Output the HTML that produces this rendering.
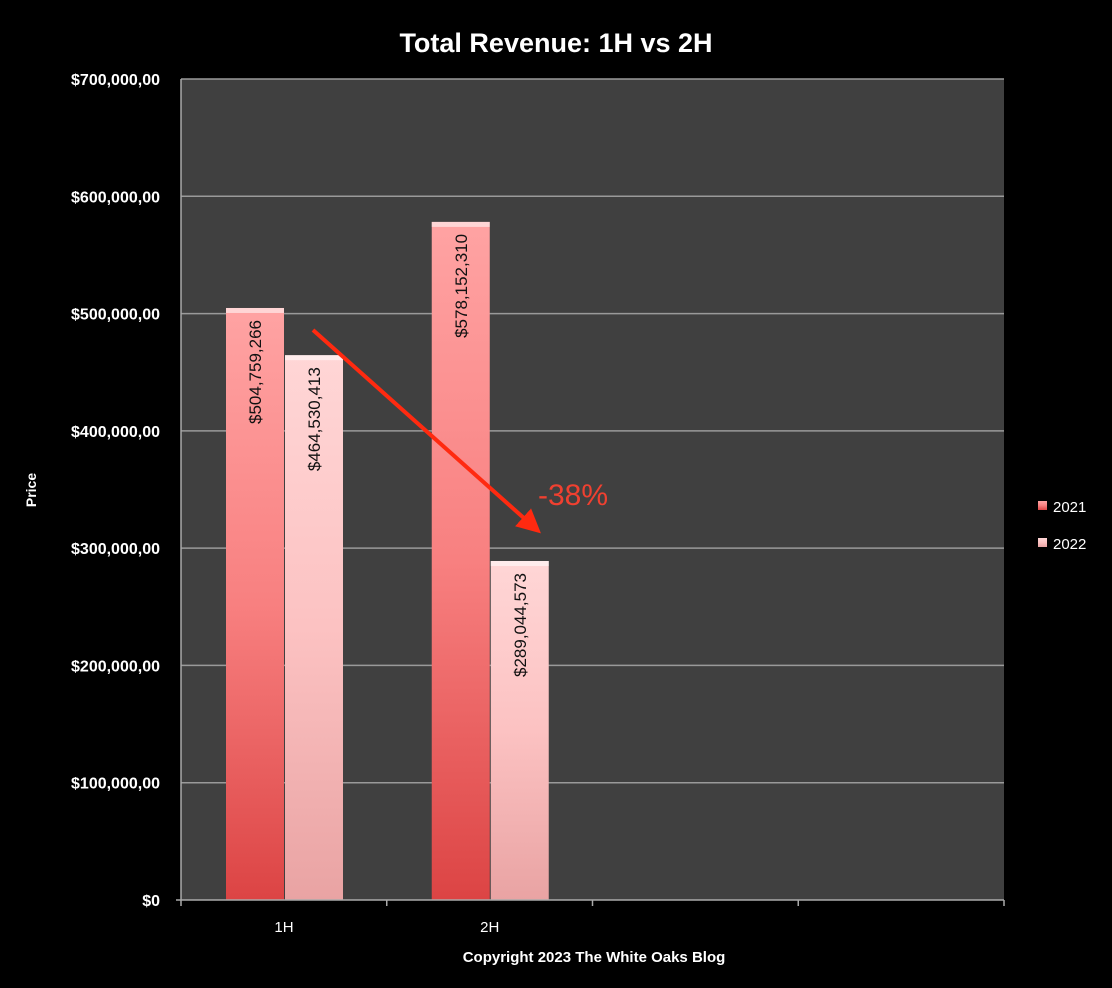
<!DOCTYPE html>
<html><head><meta charset="utf-8"><style>
html,body{margin:0;padding:0;background:#000;}
svg{display:block;font-family:"Liberation Sans",sans-serif;}
</style></head><body>
<svg id="chart" width="1112" height="988">
<defs>
<linearGradient id="g21" x1="0" y1="0" x2="0" y2="1"><stop offset="0" stop-color="#ffa3a3"/><stop offset="0.5" stop-color="#f88080"/><stop offset="1" stop-color="#dc4444"/></linearGradient>
<linearGradient id="g22" x1="0" y1="0" x2="0" y2="1"><stop offset="0" stop-color="#ffd6d6"/><stop offset="0.5" stop-color="#fcc2c2"/><stop offset="1" stop-color="#e9a3a3"/></linearGradient>
<marker id="ah" markerWidth="6" markerHeight="6" refX="4" refY="3" orient="auto"><path d="M0,0 L6,3 L0,6 z" fill="#ff2a10"/></marker>
</defs>
<text x="556" y="52" fill="#fff" font-size="27" font-weight="bold" text-anchor="middle">Total Revenue: 1H vs 2H</text>
<rect x="181" y="79" width="823" height="821" fill="#404040"/>
<g id="grid"></g><g id="bars"></g>
<text transform="translate(36,490) rotate(-90)" fill="#fff" font-size="14" font-weight="bold" text-anchor="middle">Price</text>
<text x="594" y="962" fill="#fff" font-size="15" font-weight="bold" text-anchor="middle">Copyright 2023 The White Oaks Blog</text>
<line x1="313" y1="330" x2="535" y2="528" stroke="#ff2a10" stroke-width="4" marker-end="url(#ah)"/>
<text x="538" y="505" fill="#f04030" font-size="30">-38%</text>
<rect x="1038" y="501" width="9" height="9" fill="url(#g21)"/>
<text x="1053" y="512" fill="#fff" font-size="15">2021</text>
<rect x="1038" y="538" width="9" height="9" fill="url(#g22)"/>
<text x="1053" y="549" fill="#fff" font-size="15">2022</text>
</svg>
<script>
const categories = ["1H","2H","",""];
const series2021 = [504759266, 578152310, null, null];
const series2022 = [464530413, 289044573, null, null];
const yTicks = [0,100000000,200000000,300000000,400000000,500000000,600000000,700000000];
const yTickLabels = ["$0","$100,000,00","$200,000,00","$300,000,00","$400,000,00","$500,000,00","$600,000,00","$700,000,00"];
const labels2021 = ["$504,759,266","$578,152,310"];
const labels2022 = ["$464,530,413","$289,044,573"];

const NS="http://www.w3.org/2000/svg";
const L=181,R=1004,T=79,B=900,maxV=700000000;
const y=v=>B-(v/maxV)*(B-T);
const catW=(R-L)/categories.length;
const x=i=>L+i*catW;
function mk(tag,attrs,parent){const e=document.createElementNS(NS,tag);for(const k in attrs)e.setAttribute(k,attrs[k]);parent.appendChild(e);return e;}
const grid=document.getElementById('grid'),bars=document.getElementById('bars'),svg=document.getElementById('chart');
yTicks.forEach((v,i)=>{
  if(v>0){const g=mk('line',{x1:L,x2:R,y1:y(v),y2:y(v),stroke:'#9a9a9a','stroke-width':1.5},grid);
  
  }
  const t=mk('text',{x:160,y:y(v)+6,fill:'#fff','font-size':16,'font-weight':'bold','text-anchor':'end'},svg);
  t.textContent=yTickLabels[i];
  
  
});
const ax=mk('line',{x1:L,x2:L,y1:T,y2:B,stroke:'#aaa','stroke-width':1.5},svg);


const xa=mk('line',{x1:L-5,x2:R,y1:B,y2:B,stroke:'#aaa','stroke-width':1.5},svg);


for(let i=0;i<=categories.length;i++){
  const tk=mk('line',{x1:x(i),x2:x(i),y1:B,y2:B+6,stroke:'#aaa','stroke-width':1.5},svg);
  
  
}
const bw=58;
categories.forEach((c,i)=>{
  if(c){const t=mk('text',{x:x(i)+45+bw,y:932,fill:'#fff','font-size':15,'text-anchor':'middle'},svg);
  t.textContent=c;
  
  }
  [[series2021,'url(#g21)',labels2021,0],[series2022,'url(#g22)',labels2022,1]].forEach(([s,fill,labs,k])=>{
    const v=s[i]; if(v==null) return;
    const bx=x(i)+45+k*(bw+1), by=y(v);
    const r=mk('rect',{x:bx,y:by,width:bw,height:B-by,fill:fill},bars);
    
    
    mk('rect',{x:bx,y:by,width:bw,height:5,fill:'#fff',opacity:0.55},bars);
    const lt=mk('text',{transform:`translate(${bx+bw/2+6},${by+12}) rotate(-90)`,fill:'#111','font-size':17,'text-anchor':'end'},bars);
    lt.textContent=labs[i];
    
    
  });
});
</script>
</body></html>
